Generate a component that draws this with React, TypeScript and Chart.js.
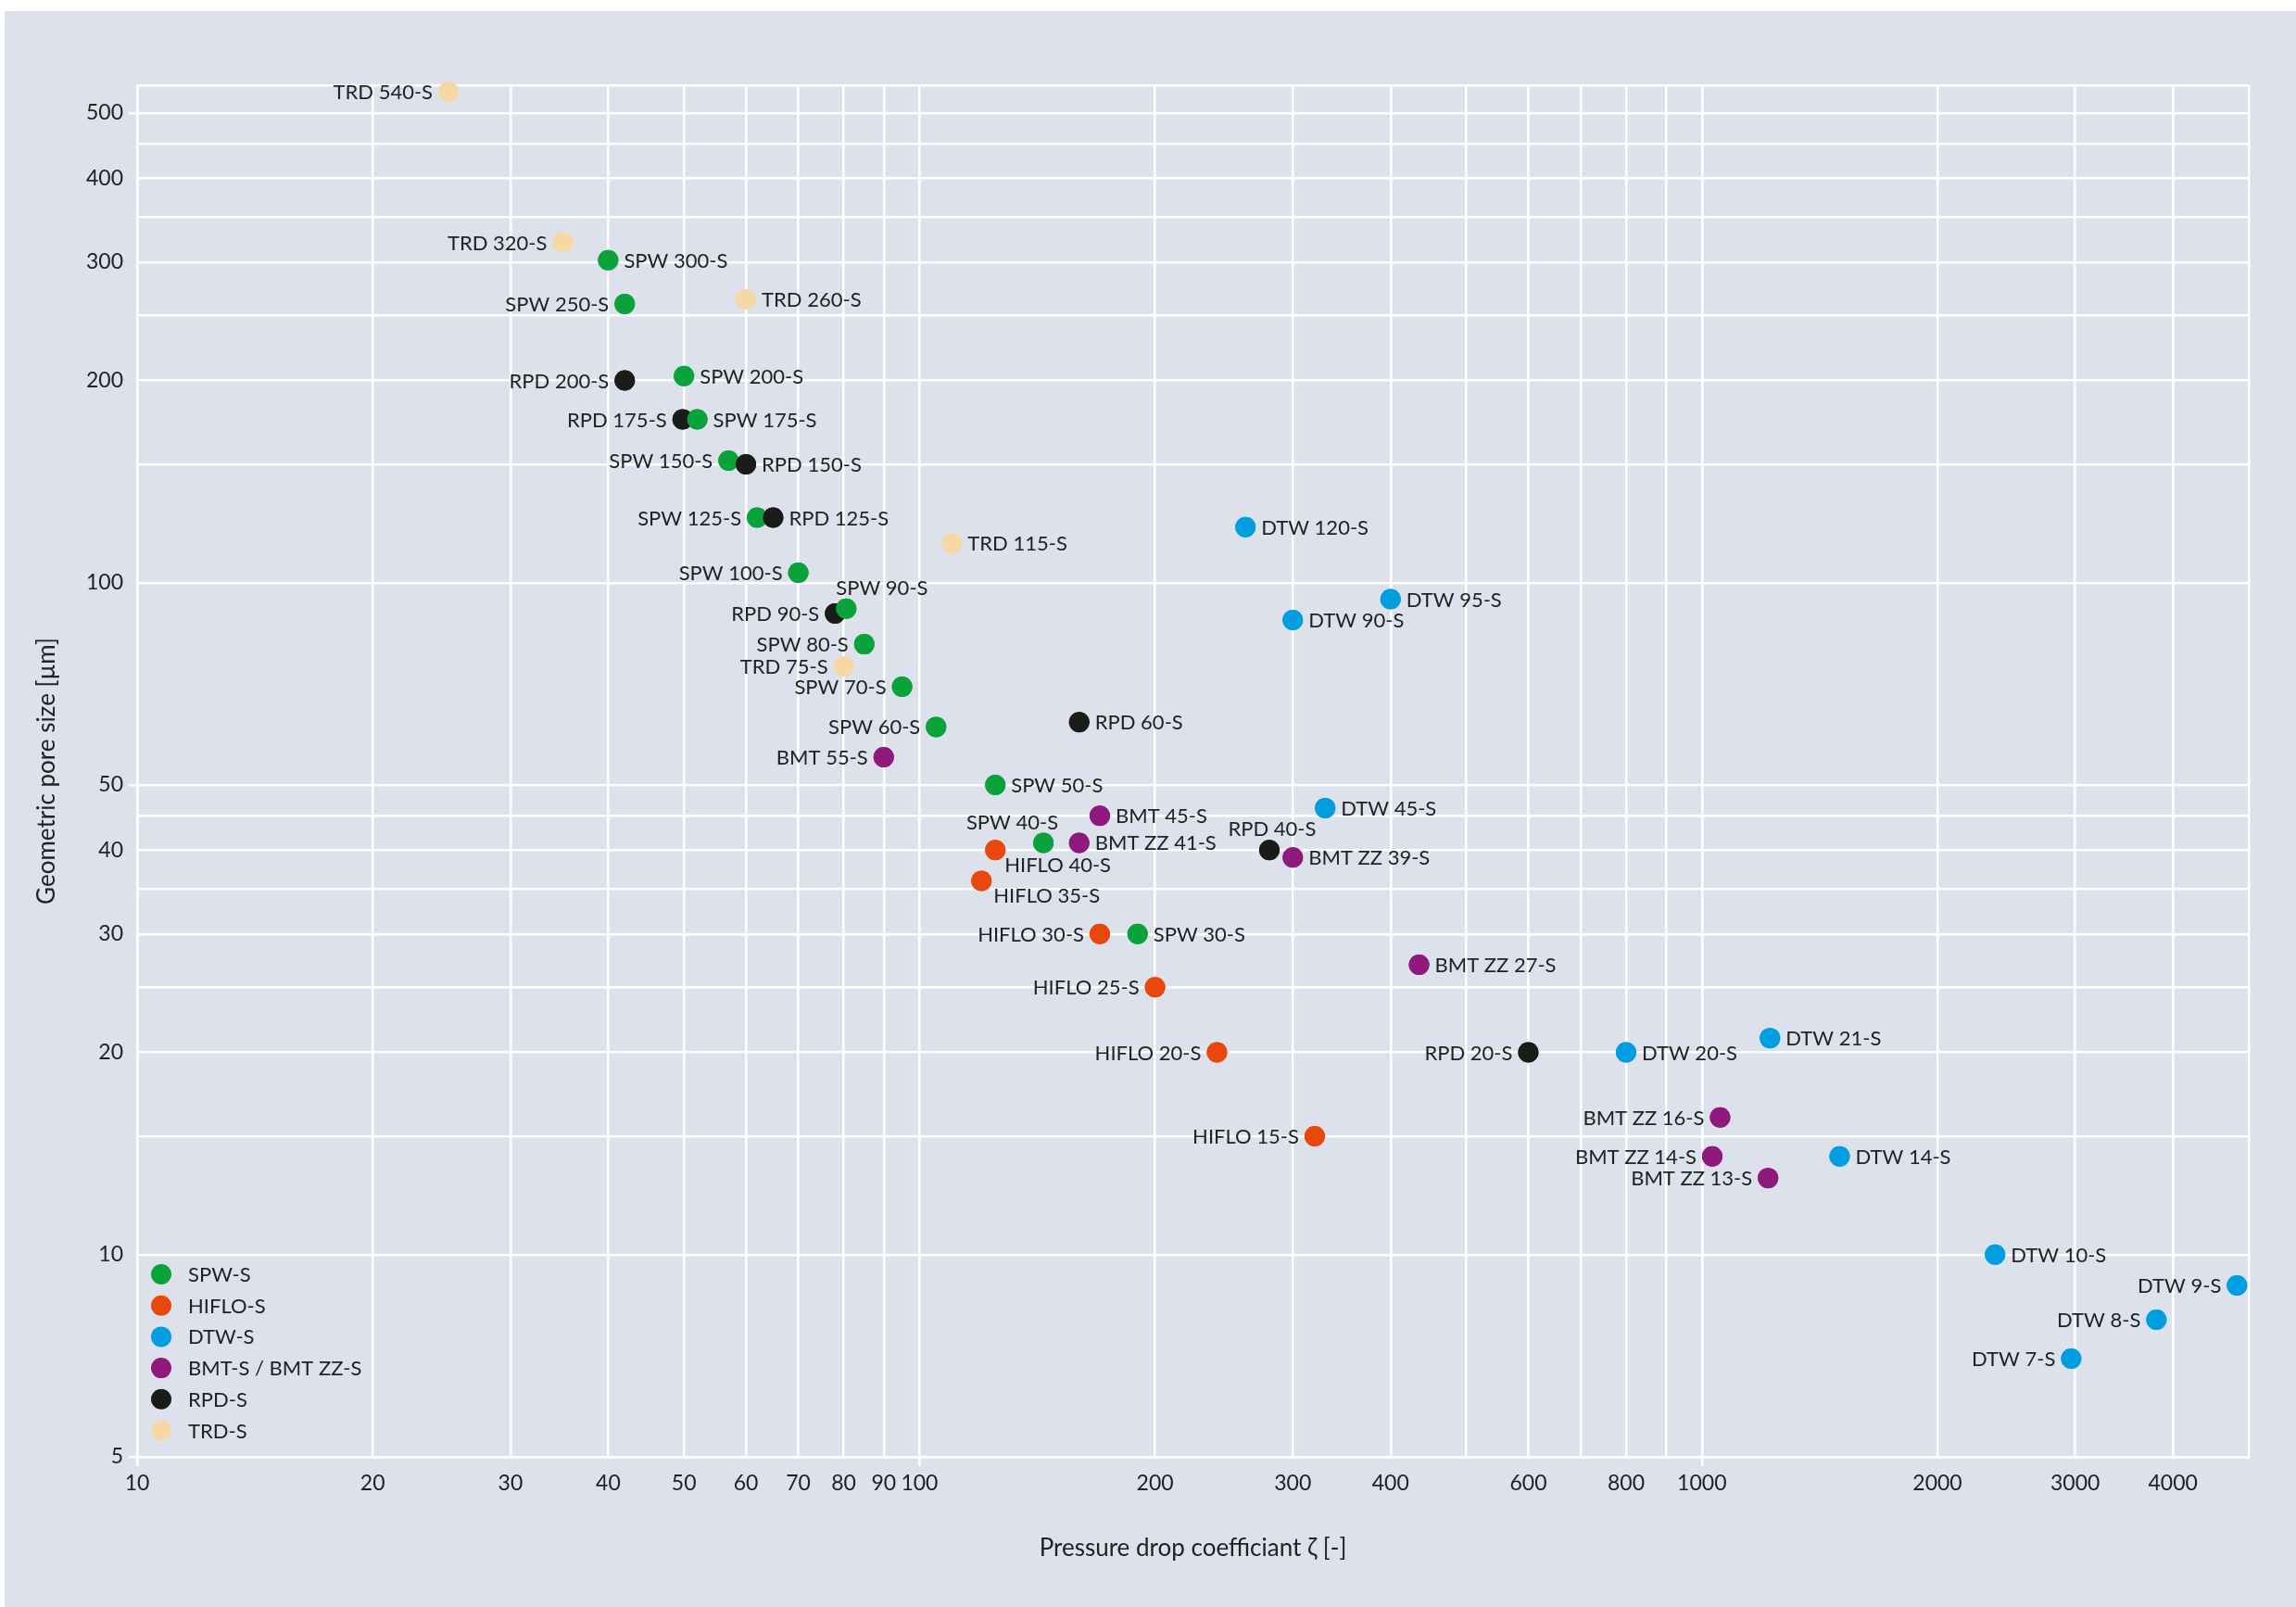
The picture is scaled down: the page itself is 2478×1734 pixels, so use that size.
import { useEffect, useRef } from "react";
import { Chart, registerables } from "chart.js";

Chart.register(...registerables);

// ---------- data ----------
const seriesNames = ["SPW-S", "HIFLO-S", "DTW-S", "BMT-S / BMT ZZ-S", "RPD-S", "TRD-S"];

const spwLabels = ["SPW 300-S", "SPW 250-S", "SPW 200-S", "SPW 175-S", "SPW 150-S", "SPW 125-S", "SPW 100-S", "SPW 90-S", "SPW 80-S", "SPW 70-S", "SPW 60-S", "SPW 50-S", "SPW 40-S", "SPW 30-S"];
const spwX = [40, 42, 50, 52, 57, 62, 70, 80.6, 85, 95, 105, 125, 144, 190];
const spwY = [302, 260, 203, 175, 152, 125, 103.5, 91.5, 81, 70, 61, 50, 41, 30];

const hifloLabels = ["HIFLO 40-S", "HIFLO 35-S", "HIFLO 30-S", "HIFLO 25-S", "HIFLO 20-S", "HIFLO 15-S"];
const hifloX = [125, 120, 170, 200, 240, 320];
const hifloY = [40, 36, 30, 25, 20, 15];

const dtwLabels = ["DTW 120-S", "DTW 95-S", "DTW 90-S", "DTW 45-S", "DTW 21-S", "DTW 20-S", "DTW 14-S", "DTW 10-S", "DTW 9-S", "DTW 8-S", "DTW 7-S"];
const dtwX = [261, 400, 300, 330, 1222, 800, 1500, 2370, 4830, 3810, 2965];
const dtwY = [121, 94.5, 88, 46.2, 21, 20, 14, 10, 9, 8, 7];

const bmtLabels = ["BMT 55-S", "BMT 45-S", "BMT ZZ 41-S", "BMT ZZ 39-S", "BMT ZZ 27-S", "BMT ZZ 16-S", "BMT ZZ 14-S", "BMT ZZ 13-S"];
const bmtX = [90, 170, 160, 300, 435, 1055, 1031, 1215];
const bmtY = [55, 45, 41, 39, 27, 16, 14, 13];

const rpdLabels = ["RPD 200-S", "RPD 175-S", "RPD 150-S", "RPD 125-S", "RPD 90-S", "RPD 60-S", "RPD 40-S", "RPD 20-S"];
const rpdX = [42, 49.8, 60, 65, 78, 160, 280, 600];
const rpdY = [200, 175, 150, 125, 90, 62, 40, 20];

const trdLabels = ["TRD 540-S", "TRD 320-S", "TRD 260-S", "TRD 115-S", "TRD 75-S"];
const trdX = [25, 35, 60, 110, 80];
const trdY = [538, 321, 264, 114.5, 75];

const xTickValues = [10, 20, 30, 40, 50, 60, 70, 80, 90, 100, 200, 300, 400, 500, 600, 700, 800, 900, 1000, 2000, 3000, 4000, 5000];
const xTickLabels = [10, 20, 30, 40, 50, 60, 70, 80, 90, 100, 200, 300, 400, 600, 800, 1000, 2000, 3000, 4000];
const xTickMarks = [10, 100, 1000];
const yTickValues = [5, 10, 15, 20, 25, 30, 35, 40, 45, 50, 100, 150, 200, 250, 300, 350, 400, 450, 500, 550];
const yTickLabels = [5, 10, 20, 30, 40, 50, 100, 200, 300, 400, 500];
const yTickMarks = [5, 50, 500];

const xTitle = "Pressure drop coefficiant ζ [-]";
const yTitle = "Geometric pore size [µm]";

// ---------- styling ----------
const colors = ["#0aa23b", "#e8470e", "#009ee0", "#8f197c", "#1b1b19", "#f6d8a6"];
const FONT = "Lato, 'Noto Sans', sans-serif";
const TEXT = "#222222";
const BG = "#dde1eb";

// label placement: default is right of the point
const leftLabels = new Set([
  "TRD 540-S", "TRD 320-S", "SPW 250-S", "RPD 200-S", "RPD 175-S", "SPW 150-S", "SPW 125-S",
  "SPW 100-S", "RPD 90-S", "SPW 80-S", "TRD 75-S", "SPW 70-S", "SPW 60-S", "BMT 55-S",
  "HIFLO 30-S", "HIFLO 25-S", "HIFLO 20-S", "RPD 20-S", "HIFLO 15-S", "BMT ZZ 16-S",
  "BMT ZZ 14-S", "BMT ZZ 13-S", "DTW 9-S", "DTW 8-S", "DTW 7-S",
]);
const specialPlacement: Record<string, { dx: number; dy: number; align: CanvasTextAlign }> = {
  "SPW 90-S": { dx: -11, dy: -23, align: "left" },
  "SPW 40-S": { dx: 16, dy: -22, align: "right" },
  "HIFLO 40-S": { dx: 10, dy: 16, align: "left" },
  "HIFLO 35-S": { dx: 13, dy: 16, align: "left" },
  "RPD 40-S": { dx: 3, dy: -23, align: "center" },
};

const allLabels = [spwLabels, hifloLabels, dtwLabels, bmtLabels, rpdLabels, trdLabels];
const allX = [spwX, hifloX, dtwX, bmtX, rpdX, trdX];
const allY = [spwY, hifloY, dtwY, bmtY, rpdY, trdY];

const pointLabelPlugin = {
  id: "pointLabels",
  afterDatasetsDraw(chart: any) {
    const ctx = chart.ctx as CanvasRenderingContext2D;
    // redraw all points ordered by x so that the right-most overlapping point is on top
    const els: any[] = [];
    chart.data.datasets.forEach((_: any, di: number) => {
      const meta = chart.getDatasetMeta(di);
      meta.data.forEach((el: any) => els.push(el));
    });
    els.sort((a, b) => a.x - b.x);
    els.forEach((el) => el.draw(ctx, chart.chartArea));

    ctx.save();
    ctx.font = `22px ${FONT}`;
    ctx.fillStyle = TEXT;
    ctx.textBaseline = "alphabetic";
    const capHalf = 8;
    chart.data.datasets.forEach((ds: any, di: number) => {
      const meta = chart.getDatasetMeta(di);
      meta.data.forEach((el: any, i: number) => {
        const name = ds.names[i];
        let dx = 17, dy = 0;
        let align: CanvasTextAlign = "left";
        if (specialPlacement[name]) {
          ({ dx, dy, align } = specialPlacement[name]);
        } else if (leftLabels.has(name)) {
          dx = -17;
          align = "right";
        }
        ctx.textAlign = align;
        ctx.fillText(name, el.x + dx, el.y + dy + capHalf);
      });
    });
    ctx.restore();
  },
};

const legendPlugin = {
  id: "cornerLegend",
  afterDraw(chart: any) {
    const ctx = chart.ctx as CanvasRenderingContext2D;
    const { left, bottom } = chart.chartArea;
    ctx.save();
    ctx.font = `22px ${FONT}`;
    ctx.textBaseline = "alphabetic";
    ctx.textAlign = "left";
    const step = 33.7;
    const firstY = bottom - 197;
    chart.data.datasets.forEach((ds: any, i: number) => {
      const cy = firstY + i * step;
      ctx.beginPath();
      ctx.fillStyle = ds.backgroundColor;
      ctx.arc(left + 26, cy, 11, 0, Math.PI * 2);
      ctx.fill();
      ctx.fillStyle = TEXT;
      ctx.fillText(ds.label, left + 55, cy + 8);
    });
    ctx.restore();
  },
};

export default function App() {
  const ref = useRef<HTMLCanvasElement | null>(null);

  useEffect(() => {
    if (!ref.current) return;
    Chart.defaults.font.family = FONT;
    Chart.defaults.color = TEXT;

    const datasets = seriesNames.map((name, si) => ({
      label: name,
      names: allLabels[si],
      data: allX[si].map((x, i) => ({ x, y: allY[si][i] })),
      backgroundColor: colors[si],
      borderWidth: 0,
      pointRadius: 11,
      pointHoverRadius: 11,
    }));

    const chart = new Chart(ref.current, {
      type: "scatter",
      data: { datasets: datasets as any },
      options: {
        animation: false,
        responsive: false,
        devicePixelRatio: 1,
        events: [],
        layout: { padding: { left: 0, top: 80, right: 51, bottom: 0 } },
        plugins: { legend: { display: false }, tooltip: { enabled: false } },
        scales: {
          x: {
            type: "logarithmic",
            min: 10,
            max: 5000,
            afterBuildTicks: (scale: any) => {
              scale.ticks = xTickValues.map((v) => ({ value: v }));
            },
            afterFit: (scale: any) => {
              scale.height = 162;
            },
            ticks: {
              autoSkip: false,
              maxRotation: 0,
              padding: 5,
              font: { size: 23 },
              color: TEXT,
              callback: (v: any) => (xTickLabels.includes(Number(v)) ? String(v) : ""),
            },
            grid: {
              color: "#ffffff",
              lineWidth: 2.5,
              tickLength: 10,
              tickColor: (c: any) => (c.tick && xTickMarks.includes(c.tick.value) ? "#ffffff" : "rgba(0,0,0,0)"),
            },
            border: { display: true, color: "#ffffff", width: 2.5 },
            title: {
              display: true,
              text: xTitle,
              font: { size: 26 },
              color: TEXT,
              padding: { top: 0, bottom: 48 },
            },
          },
          y: {
            type: "logarithmic",
            min: 5,
            max: 550,
            afterBuildTicks: (scale: any) => {
              scale.ticks = yTickValues.map((v) => ({ value: v }));
            },
            afterFit: (scale: any) => {
              scale.width = 143;
            },
            ticks: {
              autoSkip: false,
              padding: 6,
              font: { size: 23 },
              color: TEXT,
              callback: (v: any) => (yTickLabels.includes(Number(v)) ? String(v) : ""),
            },
            grid: {
              color: "#ffffff",
              lineWidth: 2.5,
              tickLength: 9,
              tickColor: (c: any) => (c.tick && yTickMarks.includes(c.tick.value) ? "#ffffff" : "rgba(0,0,0,0)"),
            },
            border: { display: true, color: "#ffffff", width: 2.5 },
            title: {
              display: true,
              text: yTitle,
              font: { size: 26 },
              color: TEXT,
              padding: { top: 30, bottom: 0 },
            },
          },
        },
      },
      plugins: [pointLabelPlugin, legendPlugin],
    });

    return () => chart.destroy();
  }, []);

  return (
    <div style={{ position: "absolute", left: 0, top: 0, width: 2478, height: 1734, background: "#ffffff", overflow: "hidden" }}>
      <canvas
        ref={ref}
        width={2473}
        height={1722}
        style={{ position: "absolute", left: 5, top: 12, width: 2473, height: 1722, background: BG }}
      />
    </div>
  );
}
